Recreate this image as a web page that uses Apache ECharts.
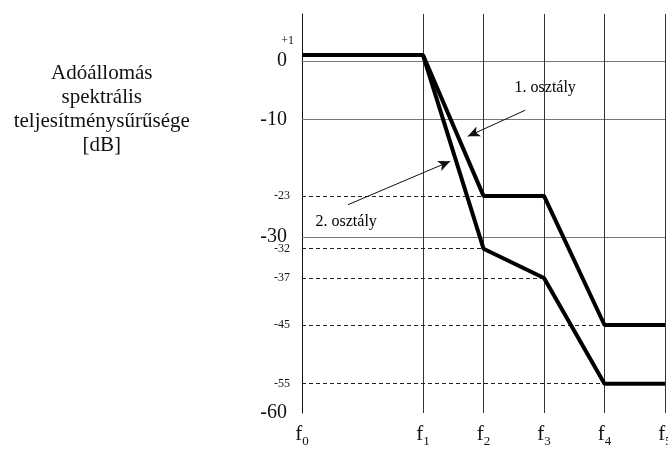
<!DOCTYPE html>
<html><head><meta charset="utf-8">
<script src="https://cdn.jsdelivr.net/npm/echarts@6/dist/echarts.min.js"></script>
<style>html,body{margin:0;padding:0;background:#fff}#c{width:668px;height:449px}</style>
</head><body><div id="c"></div>
<script>
// frequency positions and labels
var fPositions = [0, 2, 3, 4, 5, 6];
var fLabels = ['f0', 'f1', 'f2', 'f3', 'f4', 'f5'];
// y tick labels
var majorTicks = [0, -10, -30, -60];
var minorTicks = [1, -23, -32, -37, -45, -55];
// series values (dB at f0..f5)
var class1 = [1, 1, -23, -23, -45, -45];
var class2 = [1, 1, -32, -37, -55, -55];
var class1Name = '1. osztály';
var class2Name = '2. osztály';
// dashed reference levels and the f index where each ends
var dashLevels = [-23, -32, -37, -45, -55];
var dashEndIdx = [2, 2, 3, 4, 4];
// solid horizontal grid levels
var gridLevels = [0, -10, -30];
// annotation positions (data space)
var label1Pos = [4.02, -4.5];
var label2Pos = [0.73, -27.4];
var titlePos = [-3.31, -8.2];
var arrow1 = [[3.69, -8.4], [2.74, -12.85]];
var arrow2 = [[0.76, -24.5], [2.45, -17.1]];
var yTitle = 'Adóállomás\nspektrális\nteljesítménysűrűsége\n[dB]';

var FONT = '"Liberation Serif", "DejaVu Serif", serif';
function pairs(vals) { return vals.map(function (v, i) { return [fPositions[i], v]; }); }

var chart = echarts.init(document.getElementById('c'));
var option = {
  animation: false,
  backgroundColor: '#fff',
  grid: { left: 302, right: 3, top: 14, bottom: 36, outerBoundsMode: 'none', containLabel: false },
  xAxis: {
    type: 'value', min: 0, max: 6,
    axisLine: { show: true, lineStyle: { color: '#666', width: 1 } },
    axisTick: { show: false },
    splitLine: { show: false },
    axisLabel: {
      customValues: fPositions, margin: 11,
      formatter: function (v) {
        var i = fPositions.indexOf(v);
        return i < 0 ? '' : '{f|f}{s|' + fLabels[i].slice(1) + '}';
      },
      rich: {
        f: { fontFamily: FONT, fontSize: 21, color: '#111', verticalAlign: 'bottom' },
        s: { fontFamily: FONT, fontSize: 13, color: '#111', verticalAlign: 'bottom', padding: [0, 0, -3, 0] }
      }
    }
  },
  yAxis: {
    type: 'value', min: -60, max: 8,
    axisLine: { show: true, lineStyle: { color: '#111', width: 1 } },
    axisTick: { show: false },
    splitLine: { show: false },
    axisLabel: {
      customValues: majorTicks.concat(minorTicks), margin: 15,
      formatter: function (v) {
        if (v === 1) return '{p|+1}';
        if (majorTicks.indexOf(v) >= 0) return '{b|' + v + '}';
        return '{m|' + v + '}';
      },
      rich: {
        b: { fontFamily: FONT, fontSize: 20, color: '#111' },
        m: { fontFamily: FONT, fontSize: 12, color: '#111', padding: [0, -3, 0, 0] },
        p: { fontFamily: FONT, fontSize: 12, color: '#111', padding: [0, -7, 28, 0] }
      }
    }
  },
  series: [
    {
      type: 'line', name: 'grid', data: [], silent: true,
      markLine: {
        silent: true, symbol: 'none', animation: false,
        label: { show: false },
        data: gridLevels.map(function (v) { return { yAxis: v, lineStyle: { color: '#777', width: 1, type: 'solid' } }; })
          .concat(fPositions.slice(1).map(function (x) { return { xAxis: x, lineStyle: { color: '#333', width: 1, type: 'solid' } }; }))
      }
    },
    {
      type: 'line', name: 'dashes', data: [], silent: true,
      markLine: {
        silent: true, symbol: 'none', animation: false,
        label: { show: false },
        lineStyle: { color: '#222', width: 1, type: [4, 3] },
        data: dashLevels.map(function (v, i) { return [{ coord: [0, v] }, { coord: [fPositions[dashEndIdx[i]], v] }]; })
      }
    },
    {
      type: 'line', name: class1Name, data: pairs(class1), symbol: 'none',
      lineStyle: { color: '#000', width: 4 }, z: 5
    },
    {
      type: 'line', name: class2Name, data: pairs(class2), symbol: 'none',
      lineStyle: { color: '#000', width: 4 }, z: 5
    },
    {
      type: 'scatter', name: 'title', symbolSize: 0, silent: true, clip: false, z: 6,
      itemStyle: { opacity: 1 },
      data: [{ value: titlePos, name: yTitle }],
      label: { show: true, position: 'inside', formatter: '{b}', fontFamily: FONT, fontSize: 21, lineHeight: 24, align: 'center', color: '#111' }
    },
    {
      type: 'scatter', name: 'labels', symbolSize: 0, silent: true, z: 6,
      itemStyle: { opacity: 1 },
      data: [
        { value: label1Pos, name: class1Name },
        { value: label2Pos, name: class2Name }
      ],
      label: { show: true, position: 'inside', formatter: '{b}', fontFamily: FONT, fontSize: 16, color: '#000', opacity: 1 },
      markLine: {
        silent: true, animation: false, symbol: ['none', 'arrow'], symbolSize: [8, 12],
        label: { show: false },
        lineStyle: { color: '#111', width: 1, type: 'solid', opacity: 1 },
        data: [
          [{ coord: arrow1[0] }, { coord: arrow1[1] }],
          [{ coord: arrow2[0] }, { coord: arrow2[1] }]
        ]
      }
    }
  ]
};
chart.setOption(option);
</script>
</body></html>
